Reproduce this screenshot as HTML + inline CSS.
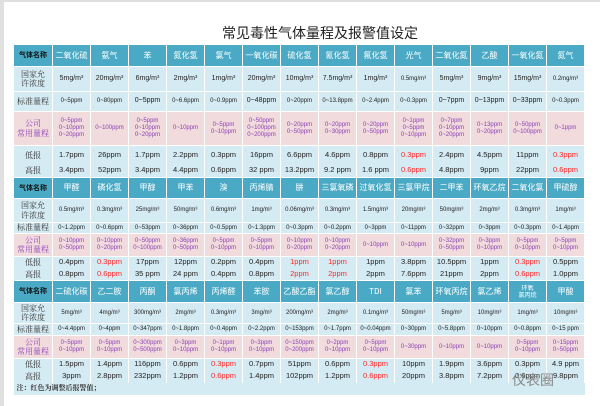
<!DOCTYPE html>
<html><head><meta charset="utf-8"><style>
html,body{margin:0;padding:0;}
body{width:600px;height:406px;background:#fff;position:relative;overflow:hidden;font-family:"Liberation Sans","Noto Sans CJK SC",sans-serif;}
.frame{position:absolute;left:0;top:0;width:600px;height:406px;box-sizing:border-box;border-top:2px solid #e0e0e0;border-left:4px solid #e0e0e0;}
.title{position:absolute;left:0;width:600px;top:23px;text-align:center;font-size:14px;color:#222;font-family:"Noto Sans CJK SC",sans-serif;padding-left:40px;box-sizing:border-box;}
table{position:absolute;left:13px;top:44px;border-collapse:collapse;table-layout:fixed;width:572px;}
td{border-left:1px solid #fff;border-right:1px solid #fff;padding:0;text-align:center;font-size:6px;color:#222;white-space:nowrap;overflow:hidden;line-height:1.15;}
td:first-child{width:38px;font-family:"Noto Serif CJK SC",serif;font-size:8px;color:#333;}
tr.h td{background:#4aaac5;color:#fff;font-size:8px;font-family:"Noto Sans CJK SC",sans-serif;border-bottom:1px solid #fff;border-top:1px solid #fff;}
tr.h td:first-child{color:#111;font-weight:bold;font-size:7px;}
tr.g td{background:#d5ebf3;border-bottom:1px solid #fff;}
tr.g.big td{font-size:7px;}
tr.g.big td:first-child{font-size:8px;}
tr.p td{background:#f2dbdc;color:#8c40b8;border-bottom:1px solid #fff;}
tr.p td:first-child{color:#8c40b8;}
tr.l td{background:#d5ebf3;font-size:7.5px;}
tr.l td:first-child{font-size:8px;}
.r{color:#ff2525!important;}
.n td{background:#d5ebf3;text-align:left;font-size:7px;font-weight:bold;padding-left:3px;border:none;}
.wm{position:absolute;left:512px;top:370px;font-size:14px;color:#888;font-family:"Noto Sans CJK SC",sans-serif;}
</style></head><body>
<div class="frame"></div>
<div class="title">常见毒性气体量程及报警值设定</div>
<table>
<colgroup><col style="width:39px"><col span="14" style="width:38px"></colgroup>
<tr class="h" style="height:22px"><td>气体名称</td><td>二氧化硫</td><td>氨气</td><td>苯</td><td>氮化氢</td><td>氯气</td><td>一氧化碳</td><td>硫化氢</td><td>氰化氢</td><td>氟化氢</td><td>光气</td><td>二氧化氮</td><td>乙酸</td><td>一氧化氮</td><td>氮气</td></tr>
<tr class="g big" style="height:25px"><td>国家允<br>许浓度</td><td>5mg/m³</td><td>20mg/m³</td><td>6mg/m³</td><td>2mg/m³</td><td>1mg/m³</td><td>20mg/m³</td><td>10mg/m³</td><td>7.5mg/m³</td><td>1mg/m³</td><td style="font-size:6px">0.5mg/m³</td><td>5mg/m³</td><td>9mg/m³</td><td>15mg/m³</td><td style="font-size:6px">0.2mg/m³</td></tr>
<tr class="g big" style="height:20px"><td>标准量程</td><td style="font-size:6px">0~5ppm</td><td style="font-size:6px">0~80ppm</td><td>0~5ppm</td><td style="font-size:6px">0~6.6ppm</td><td style="font-size:6px">0~0.9ppm</td><td>0~48ppm</td><td style="font-size:6px">0~20ppm</td><td style="font-size:6px">0~13.8ppm</td><td style="font-size:6px">0~2.4ppm</td><td style="font-size:6px">0~0.3ppm</td><td>0~7ppm</td><td>0~13ppm</td><td>0~33ppm</td><td style="font-size:6px">0~0.3ppm</td></tr>
<tr class="p" style="height:34px"><td>公司<br>常用量程</td><td>0~5ppm<br>0~10ppm<br>0~20ppm</td><td>0~100ppm</td><td>0~5ppm<br>0~10ppm<br>0~20ppm</td><td>0~10ppm</td><td>0~5ppm<br>0~10ppm</td><td>0~50ppm<br>0~100ppm<br>0~200ppm</td><td>0~20ppm<br>0~50ppm</td><td>0~20ppm<br>0~30ppm</td><td>0~20ppm<br>0~50ppm</td><td>0~1ppm<br>0~5ppm<br>0~10ppm</td><td>0~7ppm<br>0~10ppm<br>0~20ppm</td><td>0~13ppm<br>0~20ppm</td><td>0~50ppm<br>0~100ppm</td><td>0~1ppm</td></tr>
<tr class="l" style="height:19px"><td>低报</td><td>1.7ppm</td><td>26ppm</td><td>1.7ppm</td><td>2.2ppm</td><td>0.3ppm</td><td>16ppm</td><td>6.6ppm</td><td>4.6ppm</td><td>0.8ppm</td><td class="r">0.3ppm</td><td>2.4ppm</td><td>4.5ppm</td><td>11ppm</td><td class="r">0.3ppm</td></tr>
<tr class="l" style="height:13px"><td>高报</td><td>3.4ppm</td><td>52ppm</td><td>3.4ppm</td><td>4.4ppm</td><td>0.6ppm</td><td>32 ppm</td><td>13.2ppm</td><td>9.2 ppm</td><td>1.6 ppm</td><td class="r">0.6ppm</td><td>4.8ppm</td><td>9ppm</td><td>22ppm</td><td class="r">0.6ppm</td></tr>

<tr class="h" style="height:21px"><td>气体名称</td><td>甲醛</td><td>磷化氢</td><td>甲醇</td><td>甲苯</td><td>溴</td><td>丙烯腈</td><td>肼</td><td>三氯氧磷</td><td>过氧化氢</td><td>三氯甲烷</td><td>二甲苯</td><td>环氧乙烷</td><td>二氧化氯</td><td>甲硫醇</td></tr>
<tr class="g" style="height:24px"><td>国家允<br>许浓度</td><td>0.5mg/m³</td><td>0.3mg/m³</td><td>25mg/m³</td><td>50mg/m³</td><td>0.6mg/m³</td><td>1mg/m³</td><td>0.06mg/m³</td><td>0.3mg/m³</td><td>1.5mg/m³</td><td>20mg/m³</td><td>50mg/m³</td><td>2mg/m³</td><td>0.3mg/m³</td><td>1mg/m³</td></tr>
<tr class="g" style="height:11px"><td>标准量程</td><td>0~1.2ppm</td><td>0~0.6ppm</td><td>0~53ppm</td><td>0~36ppm</td><td>0~0.5ppm</td><td>0~1.3ppm</td><td>0~0.3ppm</td><td>0~0.2ppm</td><td>0~3ppm</td><td>0~11ppm</td><td>0~32ppm</td><td>0~3ppm</td><td>0~0.3ppm</td><td>0~1.4ppm</td></tr>
<tr class="p" style="height:23px"><td>公司<br>常用量程</td><td>0~10ppm<br>0~50ppm</td><td>0~10ppm<br>0~20ppm</td><td>0~50ppm<br>0~100ppm</td><td>0~36ppm<br>0~50ppm</td><td>0~5ppm<br>0~10ppm</td><td>0~5ppm<br>0~10ppm</td><td>0~10ppm<br>0~20ppm</td><td>0~10ppm<br>0~20ppm</td><td>0~10ppm</td><td>0~10ppm</td><td>0~32ppm<br>0~50ppm</td><td>0~3ppm<br>0~10ppm</td><td>0~5ppm<br>0~10ppm</td><td>0~5ppm<br>0~10ppm</td></tr>
<tr class="l" style="height:12px"><td>低报</td><td>0.4ppm</td><td class="r">0.3ppm</td><td>17ppm</td><td>12ppm</td><td>0.2ppm</td><td>0.4ppm</td><td class="r">1ppm</td><td class="r">1ppm</td><td>1ppm</td><td>3.8ppm</td><td>10.5ppm</td><td>1ppm</td><td class="r">0.3ppm</td><td>0.5ppm</td></tr>
<tr class="l" style="height:12px"><td>高报</td><td>0.8ppm</td><td class="r">0.6ppm</td><td>35 ppm</td><td>24 ppm</td><td>0.4ppm</td><td>0.8ppm</td><td class="r">2ppm</td><td class="r">2ppm</td><td>2ppm</td><td>7.6ppm</td><td>21ppm</td><td>2ppm</td><td class="r">0.6ppm</td><td>1.0ppm</td></tr>

<tr class="h" style="height:22px"><td>气体名称</td><td>二硫化碳</td><td>乙二胺</td><td>丙酮</td><td>氯丙烯</td><td>丙烯醛</td><td>苯胺</td><td>乙酸乙酯</td><td>氯乙醇</td><td>TDI</td><td>氯苯</td><td>环氧丙烷</td><td>氯乙烯</td><td style="font-size:6px">环氧<br>氯丙烷</td><td>甲酸</td></tr>
<tr class="g" style="height:21px"><td>国家允<br>许浓度</td><td>5mg/m³</td><td>4mg/m³</td><td>300mg/m³</td><td>2mg/m³</td><td>0.3mg/m³</td><td>3mg/m³</td><td>200mg/m³</td><td>2mg/m³</td><td>0.1mg/m³</td><td>50mg/m³</td><td>5mg/m³</td><td>10mg/m³</td><td>1mg/m³</td><td>10mg/m³</td></tr>
<tr class="g" style="height:12px"><td>标准量程</td><td>0~4.4ppm</td><td>0~4ppm</td><td>0~347ppm</td><td>0~1.8ppm</td><td>0~0.4ppm</td><td>0~2.2ppm</td><td>0~153ppm</td><td>0~1.7ppm</td><td>0~0.04ppm</td><td>0~30ppm</td><td>0~5.8ppm</td><td>0~10ppm</td><td>0~0.8ppm</td><td>0~15 ppm</td></tr>
<tr class="p" style="height:23px"><td>公司<br>常用量程</td><td>0~5ppm<br>0~10ppm</td><td>0~5ppm<br>0~10ppm</td><td>0~300ppm<br>0~500ppm</td><td>0~3ppm<br>0~10ppm</td><td>0~1ppm<br>0~10ppm</td><td>0~3ppm<br>0~10ppm</td><td>0~150ppm<br>0~200ppm</td><td>0~2ppm<br>0~10ppm</td><td>0~5ppm<br>0~10ppm</td><td>0~30ppm</td><td>0~10ppm</td><td>0~10ppm</td><td>0~5ppm<br>0~10ppm</td><td>0~15ppm<br>0~50ppm</td></tr>
<tr class="l" style="height:12px"><td>低报</td><td>1.5ppm</td><td>1.4ppm</td><td>116ppm</td><td>0.6ppm</td><td class="r">0.3ppm</td><td>0.7ppm</td><td>51ppm</td><td>0.6ppm</td><td class="r">0.3ppm</td><td>10ppm</td><td>1.9ppm</td><td>3.6ppm</td><td>0.3ppm</td><td>4.9 ppm</td></tr>
<tr class="l" style="height:12px"><td>高报</td><td>3ppm</td><td>2.8ppm</td><td>232ppm</td><td>1.2ppm</td><td class="r">0.6ppm</td><td>1.4ppm</td><td>102ppm</td><td>1.2ppm</td><td class="r">0.6ppm</td><td>20ppm</td><td>3.8ppm</td><td>7.2ppm</td><td>0.6ppm</td><td>9.8ppm</td></tr>
<tr class="n" style="height:12px"><td colspan="15">注：红色为调整后报警值；</td></tr>
</table>
<div class="wm">仪表圈</div>
</body></html>
